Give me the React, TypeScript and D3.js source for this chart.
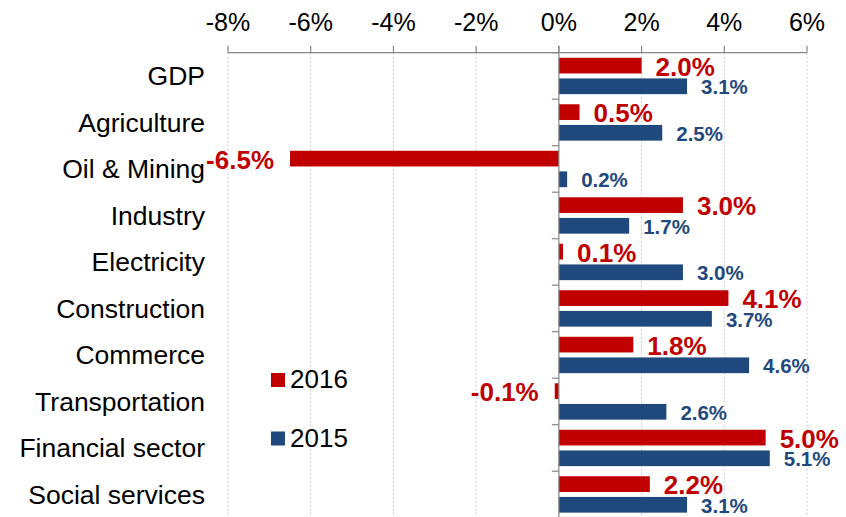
import React, { useRef, useEffect } from 'react';
import * as d3 from 'd3';

const categories = [
  'GDP',
  'Agriculture',
  'Oil & Mining',
  'Industry',
  'Electricity',
  'Construction',
  'Commerce',
  'Transportation',
  'Financial sector',
  'Social services',
];
const series = ['2016', '2015'];
const values2016 = [2.0, 0.5, -6.5, 3.0, 0.1, 4.1, 1.8, -0.1, 5.0, 2.2];
const values2015 = [3.1, 2.5, 0.2, 1.7, 3.0, 3.7, 4.6, 2.6, 5.1, 3.1];
const xTicks = [-8, -6, -4, -2, 0, 2, 4, 6];

const colors: Record<string, string> = { '2016': '#C00000', '2015': '#1F497D' };
const FONT = '"Liberation Sans", Arial, sans-serif';

const App: React.FC = () => {
  const svgRef = useRef<SVGSVGElement>(null);
  const width = 846;
  const height = 517;

  useEffect(() => {
    if (!svgRef.current) return;
    const svg = d3.select(svgRef.current);
    svg.selectAll('*').remove();

    const x = d3.scaleLinear().domain([-8, 6]).range([228, 807]);
    const y = d3.scaleBand<string>().domain(categories).range([52.7, 517.7]).padding(0);
    const sub = d3.scaleBand<string>()
      .domain(series)
      .range([0, y.bandwidth()])
      .paddingInner(0.24)
      .paddingOuter(0.245);

    const top = y.range()[0];
    const bottom = y.range()[1];

    // dotted gridlines
    svg.append('g')
      .selectAll('line')
      .data(xTicks.filter(t => t !== 0))
      .join('line')
      .attr('x1', d => x(d))
      .attr('x2', d => x(d))
      .attr('y1', top)
      .attr('y2', bottom)
      .attr('stroke', '#c8c8c8')
      .attr('stroke-width', 1)
      .attr('stroke-dasharray', '2,2');

    // top axis
    const axisG = svg.append('g');
    axisG.append('line')
      .attr('x1', x(-8)).attr('x2', x(6))
      .attr('y1', top).attr('y2', top)
      .attr('stroke', '#868686').attr('stroke-width', 1.2);
    axisG.selectAll('line.tick')
      .data(xTicks)
      .join('line')
      .attr('class', 'tick')
      .attr('x1', d => x(d)).attr('x2', d => x(d))
      .attr('y1', top - 7).attr('y2', top)
      .attr('stroke', '#868686').attr('stroke-width', 1.2);
    axisG.selectAll('text')
      .data(xTicks)
      .join('text')
      .attr('x', d => x(d))
      .attr('y', 31)
      .attr('text-anchor', 'middle')
      .attr('font-family', FONT)
      .attr('font-size', 25)
      .attr('fill', '#000')
      .text(d => `${d}%`);

    // category labels
    svg.append('g')
      .selectAll('text')
      .data(categories)
      .join('text')
      .attr('x', 205)
      .attr('y', d => (y(d) ?? 0) + y.bandwidth() / 2)
      .attr('dy', '0.35em')
      .attr('text-anchor', 'end')
      .attr('font-family', FONT)
      .attr('font-size', 26.5)
      .attr('fill', '#000')
      .text(d => d);

    const rows = categories.flatMap((c, i) => [
      { cat: c, s: '2016', v: values2016[i] },
      { cat: c, s: '2015', v: values2015[i] },
    ]);

    // bars
    svg.append('g')
      .selectAll('rect')
      .data(rows)
      .join('rect')
      .attr('x', d => x(Math.min(0, d.v)))
      .attr('width', d => Math.abs(x(d.v) - x(0)))
      .attr('y', d => (y(d.cat) ?? 0) + (sub(d.s) ?? 0))
      .attr('height', sub.bandwidth())
      .attr('fill', d => colors[d.s]);

    // value labels
    svg.append('g')
      .selectAll('text')
      .data(rows)
      .join('text')
      .attr('x', d => (d.v < 0 ? x(d.v) - 16 : x(d.v) + 14))
      .attr('y', d => (y(d.cat) ?? 0) + (sub(d.s) ?? 0) + sub.bandwidth() / 2 + 1)
      .attr('dy', '0.35em')
      .attr('text-anchor', d => (d.v < 0 ? 'end' : 'start'))
      .attr('font-family', FONT)
      .attr('font-weight', 'bold')
      .attr('font-size', d => (d.s === '2016' ? 26 : 20.5))
      .attr('fill', d => colors[d.s])
      .text(d => `${d.v.toFixed(1)}%`);

    // zero axis with category ticks
    svg.append('line')
      .attr('x1', x(0)).attr('x2', x(0))
      .attr('y1', top - 7).attr('y2', bottom)
      .attr('stroke', '#868686').attr('stroke-width', 1.2);
    svg.append('g')
      .selectAll('line')
      .data(d3.range(categories.length + 1))
      .join('line')
      .attr('x1', x(0) - 7).attr('x2', x(0))
      .attr('y1', i => top + i * y.step())
      .attr('y2', i => top + i * y.step())
      .attr('stroke', '#868686').attr('stroke-width', 1.2);

    // legend
    const legend = svg.append('g')
      .selectAll('g')
      .data(series)
      .join('g')
      .attr('transform', (_, i) => `translate(271, ${373 + i * 58.5})`);
    legend.append('rect')
      .attr('width', 14).attr('height', 14)
      .attr('fill', d => colors[d]);
    legend.append('text')
      .attr('x', 19)
      .attr('y', 15)
      .attr('font-family', FONT)
      .attr('font-size', 26)
      .attr('fill', '#000')
      .text(d => d);
  }, []);

  return (
    <svg
      ref={svgRef}
      width={width}
      height={height}
      style={{ position: 'absolute', left: 0, top: 0, background: '#fff' }}
    />
  );
};

export default App;
